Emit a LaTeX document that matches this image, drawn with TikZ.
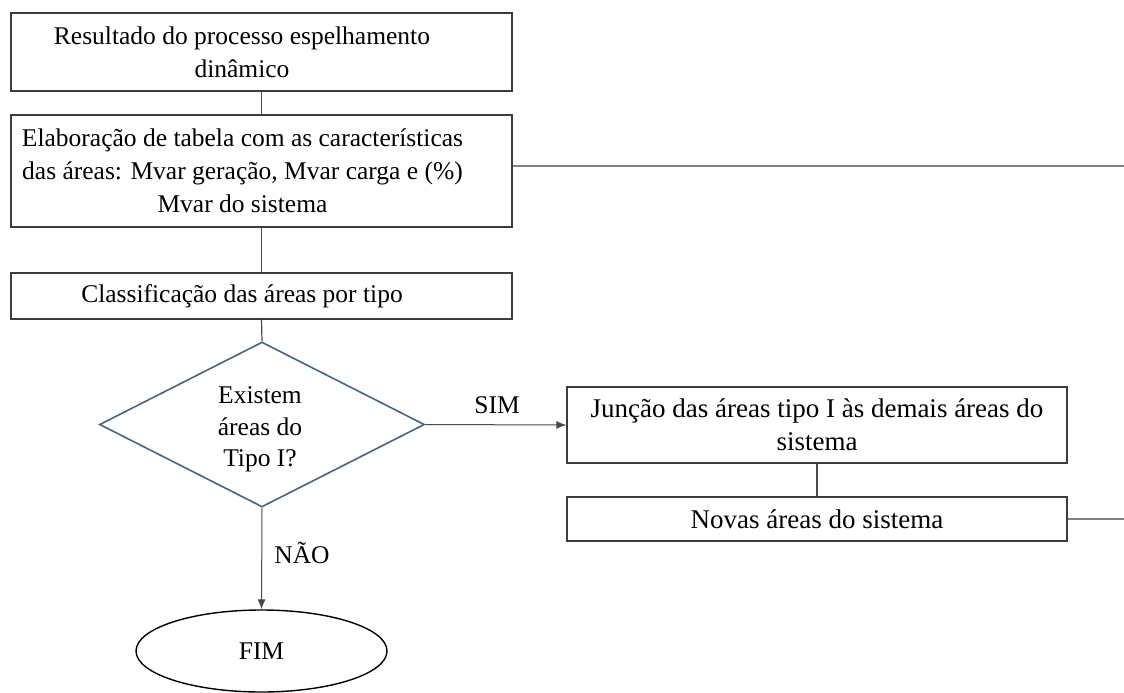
\documentclass[tikz,border=0pt]{standalone}
\usepackage{fontspec}
\setmainfont{Liberation Serif}
\usetikzlibrary{shapes.geometric,arrows.meta}
\definecolor{boxline}{HTML}{3C3C3C}
\definecolor{conn}{HTML}{4A4A4A}
\definecolor{dblue}{HTML}{46648A}
\begin{document}
\begin{tikzpicture}[x=1pt,y=-1pt,
  every node/.style={font=\fontsize{25.5}{33}\selectfont, text=black},
  procbox/.style={draw=boxline, line width=1.3pt, rectangle, align=center, inner sep=0pt, minimum width=501pt},
  boxtext/.style={align=center, inner sep=0pt},
  bigtext/.style={font=\fontsize{27}{33}\selectfont},
  decis/.style={draw=dblue, line width=1.6pt, diamond, inner sep=0pt, minimum width=325pt, minimum height=165pt},
  decistext/.style={align=center, inner sep=0pt, font=\fontsize{25.5}{31.5}\selectfont},
  term/.style={draw=black, line width=1.4pt, ellipse, inner sep=0pt, minimum width=251pt, minimum height=82pt},
  link/.style={draw=conn, line width=1.2pt},
  arrowlink/.style={draw=conn, line width=1pt, -{Latex[length=10pt,width=8pt]}},
  lbl/.style={inner sep=1pt}
]
\useasboundingbox (0,0) rectangle (1124,693);
\fill[white] (0,0) rectangle (1124,693);

\node[procbox, minimum height=78pt] (b1) at (261.5,52) {};
\node[boxtext] (b1t) at ([xshift=-19.5pt]b1.center) {Resultado do processo espelhamento\\dinâmico};
\node[procbox, minimum height=112pt] (b2) at (261.5,171) {};
\node[boxtext] (b2t) at ([xshift=-19pt]b2.center) {Elaboração de tabela com as características\\das áreas: Mvar geração, Mvar carga e (\%)\\Mvar do sistema};
\node[procbox, minimum height=46pt] (b3) at (261.5,296) {};
\node[boxtext] (b3t) at ([xshift=-19.5pt]b3.center) {Classificação das áreas por tipo};
\node[decis] (d) at (262,424.5) {};
\node[decistext] (dt) at ([xshift=-2pt,yshift=-5pt]d.center) {Existem\\áreas do\\Tipo I?};
\node[term] (fim) at (261.5,651) {\raisebox{-3pt}{FIM}};
\node[procbox, bigtext, minimum width=500pt, minimum height=76pt] (j) at (817,425) {Junção das áreas tipo I às demais áreas do\\sistema};
\node[procbox, bigtext, minimum width=500pt, minimum height=44pt] (n) at (817,519) {Novas áreas do sistema};

\coordinate (e1) at (1124,166);
\coordinate (e2) at (1124,519);

\draw[link] (b1.south) -- (b2.north);
\draw[link] (b2.south) -- (b3.north);
\draw[link] (b3.south) -- (d.north);
\draw[arrowlink] (d.south) -- (fim.north);
\draw[arrowlink] (d.east) -- (j.west);
\draw[link] (j.south) -- (n.north);
\draw[link, draw=gray] (b2.east |- e1) -- (e1);
\draw[link, draw=gray] (n.east) -- (e2);

\node[lbl] (sim) at (497,405) {SIM};
\node[lbl] (nao) at (302,553) {NÃO};
\end{tikzpicture}
\end{document}
